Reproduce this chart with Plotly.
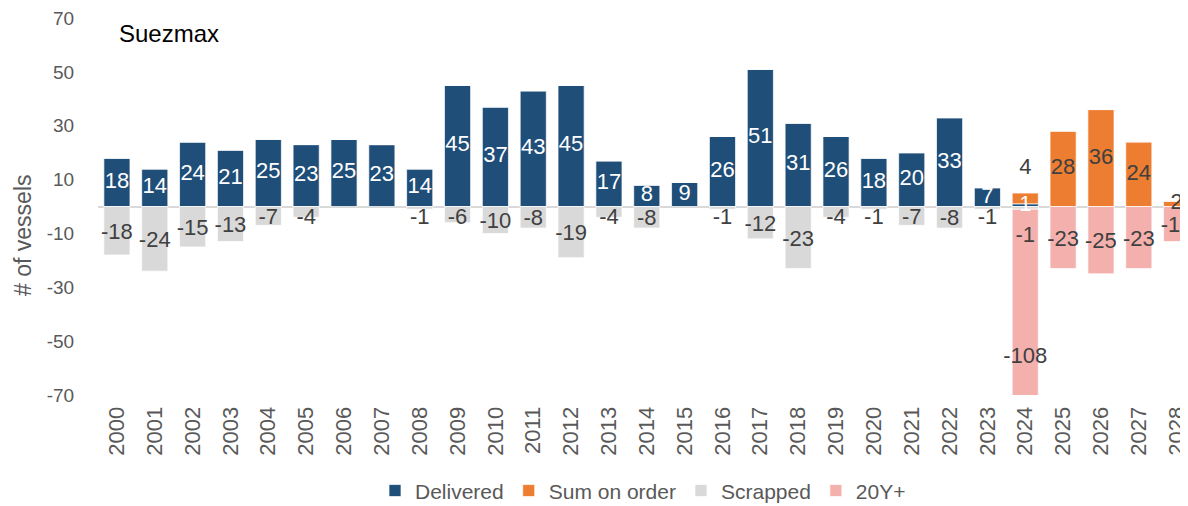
import plotly.graph_objects as go

years = [str(y) for y in range(2000, 2029)]
delivered = [18, 14, 24, 21, 25, 23, 25, 23, 14, 45, 37, 43, 45, 17, 8, 9, 26, 51, 31, 26, 18, 20, 33, 7, 1, 0, 0, 0, 0]
on_order = [0]*24 + [4, 28, 36, 24, 2]
scrapped = [-18, -24, -15, -13, -7, -4, 0, 0, -1, -6, -10, -8, -19, -4, -8, 0, -1, -12, -23, -4, -1, -7, -8, -1, -1, 0, 0, 0, 0]
old20 = [0]*24 + [-108, -23, -25, -23, -13]
y_ticks = [-70, -50, -30, -10, 10, 30, 50, 70]
y_tick_labels = ["-70", "-50", "-30", "-10", "10", "30", "50", "70"]

C_DEL = "#1F4E79"
C_ORD = "#ED7D31"
C_SCR = "#D9D9D9"
C_OLD = "#F4B0AD"
TXT = "#404040"
FONT = "Liberation Sans, Arial"

fig = go.Figure()
line = dict(color="rgba(255,255,255,0.7)", width=1)
fig.add_bar(x=years, y=delivered, name="Delivered", marker=dict(color=C_DEL, line=line))
fig.add_bar(x=years, y=on_order, name="Sum on order", marker=dict(color=C_ORD, line=line))
fig.add_bar(x=years, y=scrapped, name="Scrapped", marker=dict(color=C_SCR, line=line))
fig.add_bar(x=years, y=old20, name="20Y+", marker=dict(color=C_OLD, line=line))

# label positions computed from data
def add_labels(xs, ys, texts, color):
    fig.add_trace(go.Scatter(x=xs, y=ys, text=texts, mode="text", showlegend=False,
                             hoverinfo="skip", cliponaxis=False,
                             textfont=dict(family=FONT, size=22, color=color)))

lx, ly, lt = [], [], []
for x, v in zip(years, delivered):
    if v:
        lx.append(x); ly.append(v / 2); lt.append(str(v))
add_labels(lx, ly, lt, "white")

lx, ly, lt = [], [], []
for x, d, v in zip(years, delivered, on_order):
    if v:
        if d > 0 and v < 5:
            y = d + v + 9
        else:
            y = d + v / 2
        lx.append(x); ly.append(y); lt.append(str(v))
add_labels(lx, ly, lt, TXT)

lx, ly, lt = [], [], []
for x, v, o in zip(years, scrapped, old20):
    if v:
        y = min(v / 2 - 1, -4.5)
        if o:
            y = -11
        lx.append(x); ly.append(y); lt.append(str(v))
add_labels(lx, ly, lt, TXT)

lx, ly, lt = [], [], []
for x, s, v in zip(years, scrapped, old20):
    if v:
        lx.append(x); ly.append(s + v / 2 - 1); lt.append(str(v))
add_labels(lx, ly, lt, TXT)

fig.add_annotation(text="Suezmax", xref="paper", yref="paper", x=0.017, y=0.96,
                   xanchor="left", yanchor="middle", showarrow=False,
                   font=dict(family=FONT, size=24, color="black"))
fig.add_annotation(text="# of vessels", xref="paper", yref="paper", x=-0.069, y=0.424,
                   xanchor="center", yanchor="middle", textangle=-90, showarrow=False,
                   font=dict(family=FONT, size=23, color="#595959"))

fig.update_layout(
    width=1188, height=506,
    margin=dict(l=90, r=8, t=10, b=119, autoexpand=False),
    barmode="relative", bargap=0.31,
    plot_bgcolor="white", paper_bgcolor="white",
    font=dict(family=FONT, size=18, color="#595959"),
    showlegend=True,
    legend=dict(orientation="h", x=0.5, xanchor="center", y=-0.2, yanchor="top",
                font=dict(family=FONT, size=21, color="#595959"),
                itemwidth=30, traceorder="normal"),
    xaxis=dict(type="category", range=[-0.5, 28.3], tickangle=-90, showgrid=False,
               automargin=False, ticklabeloverflow="allow",
               showline=False, ticks="outside", ticklen=2, tickcolor="rgba(0,0,0,0)",
               tickfont=dict(family=FONT, size=22, color="#595959")),
    yaxis=dict(range=[-70, 70], tickmode="array", tickvals=y_ticks, ticktext=y_tick_labels,
               showgrid=False, automargin=False, ticklabeloverflow="allow",
               zeroline=True, zerolinecolor="#D9D9D9", zerolinewidth=1.5, showline=False,
               ticks="outside", ticklen=19, tickcolor="rgba(0,0,0,0)",
               tickfont=dict(family=FONT, size=19, color="#595959")),
)
fig.write_html("out.html")
